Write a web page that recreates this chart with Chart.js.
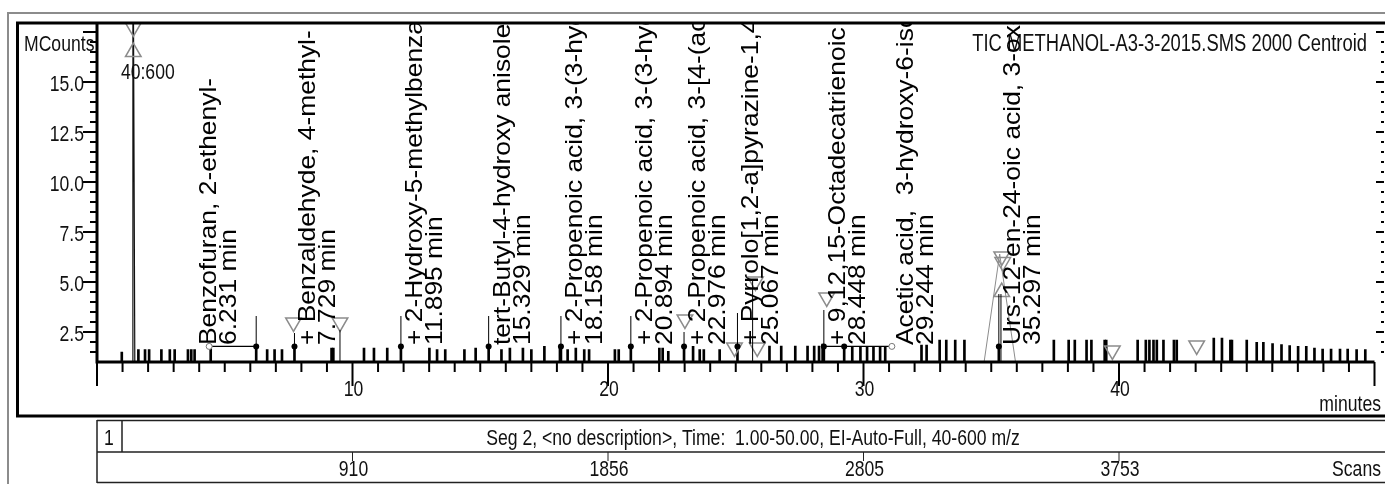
<!DOCTYPE html>
<html>
<head>
<meta charset="utf-8">
<script src="https://cdn.jsdelivr.net/npm/chart.js@4"></script>
<style>
  html, body { margin: 0; background: #fff; }
  canvas { display: block; }
</style>
</head>
<body>
<canvas id="myChart" width="1385" height="484"></canvas>
<script>
// centroid sticks: retention time (min) and height (MCounts)
const stickTimes = [0.97, 1.62, 1.88, 2.04, 2.52, 2.85, 3.04, 3.56, 3.69, 3.82, 4.45, 6.231, 6.66, 6.95, 7.24, 7.729,
  9.18, 9.25, 10.45, 10.84, 11.36, 11.895, 13.01, 13.31, 13.63, 14.38, 14.82, 15.329, 15.83, 16.16, 16.67, 17.0,
  17.51, 18.12, 18.158, 18.42, 18.74, 19.07, 19.26, 20.27, 20.42, 20.894, 22.01, 22.14, 22.36, 22.976, 23.33, 23.59,
  23.75, 24.37, 25.067, 26.32, 26.78, 27.33, 27.81, 28.07, 28.26, 28.40, 28.448, 29.244, 29.56, 29.88, 30.14, 30.39,
  30.65, 30.85, 32.27, 32.47, 32.98, 33.24, 33.59, 33.95, 35.297, 37.45, 38.03, 38.27, 38.73, 38.92, 39.44, 39.5,
  40.73, 41.05, 41.19, 41.35, 41.48, 41.74, 42.15, 42.26, 43.71, 44.03, 44.36, 44.42, 45.0, 45.39, 45.65, 46.01,
  46.36, 46.68, 47.01, 47.33, 47.65, 47.97, 48.3, 48.65, 48.95, 49.3, 49.64];
const stickHeights = [1.5, 1.62, 1.62, 1.62, 1.62, 1.62, 1.62, 1.62, 1.62, 1.62, 1.75, 1.78, 1.62, 1.62, 1.62, 1.78,
  1.7, 1.7, 1.7, 1.7, 1.7, 1.78, 1.7, 1.62, 1.62, 1.62, 1.7, 1.78, 1.62, 1.7, 1.7, 1.62,
  1.78, 1.78, 1.78, 1.62, 1.7, 1.62, 1.62, 1.62, 1.62, 1.78, 1.7, 1.7, 1.53, 1.78, 1.78, 1.62,
  1.62, 1.62, 1.78, 1.8, 1.8, 1.8, 1.8, 1.8, 1.8, 1.9, 1.78, 1.78, 1.75, 1.75, 1.75, 1.75,
  1.75, 1.75, 1.85, 1.85, 2.1, 2.1, 2.1, 2.1, 1.78, 2.1, 2.1, 2.1, 2.1, 2.1, 2.1, 2.1,
  2.1, 2.1, 2.1, 2.1, 2.1, 2.1, 2.1, 2.1, 2.2, 2.2, 2.1, 2.1, 2.1, 1.98, 1.98, 1.92,
  1.87, 1.82, 1.78, 1.78, 1.7, 1.65, 1.65, 1.65, 1.65, 1.62, 1.62];
const stickBase = 1;

// the big solvent peak (runs off the top)
const ticTimes = [1.39, 1.405, 1.48];
const ticValues = [1, 26, 1];

// identified peaks
const peakTimes = [6.231, 7.729, 11.895, 15.329, 18.158, 20.894, 22.976, 25.067, 28.448, 29.244, 35.297];
const peakApex = [1.78, 1.78, 1.78, 1.78, 1.78, 1.78, 1.78, 1.78, 1.78, 1.78, 1.78];
const leaderTops = [3.3, 2.45, 3.3, 3.3, 3.3, 3.3, 2.5, 3.45, 3.6, 1.78, 4.4];
const peakNames = [
  'Benzofuran, 2-ethenyl-',
  '+ Benzaldehyde, 4-methyl-',
  '+ 2-Hydroxy-5-methylbenzaldehyde',
  'tert-Butyl-4-hydroxy anisole',
  '+ 2-Propenoic acid, 3-(3-hydroxyphenyl)-, methyl ester',
  '+ 2-Propenoic acid, 3-(3-hydroxy-4-methoxyphenyl)-',
  '+ 2-Propenoic acid, 3-[4-(acetyloxy)phenyl]-',
  '+ Pyrrolo[1,2-a]pyrazine-1,4-dione, hexahydro-',
  '+ 9,12,15-Octadecatrienoic acid, methyl ester',
  'Acetic acid,  3-hydroxy-6-isopropenyl-',
  'Urs-12-en-24-oic acid, 3-oxo-, methyl ester'
];

// peak start / end markers
const invTriTimes = [1.42, 7.69, 9.51, 23.01, 24.95, 25.77, 25.84, 28.56, 35.41, 35.45, 39.74, 43.04];
const invTriValues = [17.73, 2.98, 2.98, 3.13, 1.73, 5.03, 1.73, 4.23, 6.28, 6.0, 1.58, 1.83];
const upTriTimes = [1.42, 35.41];
const upTriValues = [16.5, 4.5];
const circleTimes = [4.39, 31.11];
const circleValues = [1.78, 1.78];
const baselineFrom = [4.39, 28.448];
const baselineTo = [6.231, 31.11];
const clusterTimes = [34.72, 35.33, 35.95];
const clusterValues = [1, 6.4, 1];
const markLineTimes = [9.51, 25.66, 35.38];
const markLineTops = [2.6, 5.1, 4.4];

// axes
const xTickValues = [10, 20, 30, 40];
const xTickLabels = ['10', '20', '30', '40'];
const yTickValues = [2.5, 5.0, 7.5, 10.0, 12.5, 15.0];
const yTickLabels = ['2.5', '5.0', '7.5', '10.0', '12.5', '15.0'];
const scanTimes = [10, 20, 30, 40];
const scanLabels = ['910', '1856', '2805', '3753'];

const titleText = 'TIC METHANOL-A3-3-2015.SMS 2000 Centroid';
const segText = 'Seg 2, <no description>, Time:  1.00-50.00, EI-Auto-Full, 40-600 m/z';

const FONT = '"Liberation Sans", Arial, sans-serif';
const GRAY = '#8c8c8c';

function hText(ctx, str, x, y, size, align) {
  // condensed horizontal text, y = visual middle of the digits
  const sx = 0.8;
  ctx.save();
  ctx.font = size + 'px ' + FONT;
  ctx.textAlign = 'left';
  ctx.textBaseline = 'alphabetic';
  const w = ctx.measureText(str).width * sx;
  const x0 = align === 'right' ? x - w : align === 'center' ? x - w / 2 : x;
  ctx.translate(x0, y + size * 0.358);
  ctx.scale(sx, 1);
  ctx.fillText(str, 0, 0);
  ctx.restore();
}

function vText(ctx, str, x, y) {
  // text reading bottom to top, baseline on the right
  ctx.save();
  ctx.font = '24px ' + FONT;
  ctx.textAlign = 'left';
  ctx.textBaseline = 'alphabetic';
  ctx.translate(x, y);
  ctx.rotate(-Math.PI / 2);
  ctx.scale(1.1, 1);
  ctx.fillText(str, 0, 0);
  ctx.restore();
}

const labelNudge = {0: -61, 9: 48};

const chromPlugin = {
  id: 'chrom',
  afterDraw(chart) {
    const ctx = chart.ctx, a = chart.chartArea;
    const xs = chart.scales.x, ys = chart.scales.y;
    const px = v => xs.getPixelForValue(v), py = v => ys.getPixelForValue(v);
    const W = chart.width;
    ctx.save();
    ctx.fillStyle = '#000';
    ctx.strokeStyle = '#000';

    // thin marker lines and leaders
    ctx.lineWidth = 1;
    markLineTimes.forEach((t, i) => {
      ctx.beginPath(); ctx.moveTo(px(t), py(1)); ctx.lineTo(px(t), py(markLineTops[i])); ctx.stroke();
    });
    peakTimes.forEach((t, i) => {
      ctx.beginPath(); ctx.moveTo(px(t), py(peakApex[i])); ctx.lineTo(px(t), py(leaderTops[i])); ctx.stroke();
    });

    // outer frames
    ctx.strokeStyle = GRAY; ctx.lineWidth = 2;
    ctx.beginPath(); ctx.moveTo(8, 484); ctx.lineTo(8, 13); ctx.lineTo(W, 13); ctx.stroke();
    ctx.strokeStyle = '#000'; ctx.lineWidth = 3;
    ctx.beginPath(); ctx.moveTo(W + 5, 23); ctx.lineTo(17.5, 23); ctx.lineTo(17.5, 416); ctx.lineTo(W + 5, 416); ctx.stroke();

    // axis lines
    const y0 = py(1);
    ctx.lineWidth = 3;
    ctx.beginPath(); ctx.moveTo(a.left, a.top); ctx.lineTo(a.left, y0); ctx.lineTo(a.right, y0); ctx.stroke();

    // x ticks
    ctx.lineWidth = 2;
    for (let m = 0; m <= 50; m++) {
      const len = m % 10 === 0 ? 24 : 10;
      ctx.beginPath(); ctx.moveTo(px(m), y0); ctx.lineTo(px(m), y0 + len); ctx.stroke();
    }
    // y ticks left and right
    for (let v = 1.5; v <= 17.6; v += 0.5) {
      const major = Math.abs(v / 2.5 - Math.round(v / 2.5)) < 1e-6;
      const y = py(v);
      ctx.beginPath(); ctx.moveTo(a.left, y); ctx.lineTo(a.left - (major ? 14 : 7), y); ctx.stroke();
      ctx.beginPath(); ctx.moveTo(W - 1, y); ctx.lineTo(W - 1 - (major ? 8 : 3), y); ctx.stroke();
    }

    ctx.fillStyle = '#111';
    xTickValues.forEach((v, i) => hText(ctx, xTickLabels[i], px(v) + 1, 388, 22, 'center'));
    yTickValues.forEach((v, i) => hText(ctx, yTickLabels[i], 84, py(v) + 1, 22, 'right'));
    hText(ctx, 'MCounts', 24, 43, 22, 'left');
    hText(ctx, 'minutes', 1381, 403, 22, 'right');
    hText(ctx, titleText, 1367, 43, 23, 'right');
    hText(ctx, '40:600', px(ticTimes[1]) - 12, 71, 22, 'left');

    // peak labels
    ctx.save();
    ctx.beginPath(); ctx.rect(a.left, a.top + 1, a.right - a.left, a.bottom - a.top); ctx.clip();
    ctx.fillStyle = '#000';
    const textStart = py(1.85);
    peakTimes.forEach((t, i) => {
      const x = px(t) + 21 + (labelNudge[i] || 0);
      vText(ctx, peakNames[i], x, textStart);
      vText(ctx, t.toFixed(3) + ' min', x + 20, textStart);
    });
    ctx.restore();

    // segment / scan table
    ctx.strokeStyle = '#222'; ctx.lineWidth = 1.5;
    ctx.beginPath();
    ctx.moveTo(a.left, 420.5); ctx.lineTo(W, 420.5);
    ctx.moveTo(a.left, 452); ctx.lineTo(W, 452);
    ctx.moveTo(a.left, 482.5); ctx.lineTo(W, 482.5);
    ctx.moveTo(a.left, 420); ctx.lineTo(a.left, 483);
    ctx.moveTo(122, 420); ctx.lineTo(122, 452);
    ctx.stroke();
    ctx.lineWidth = 1;
    scanTimes.forEach(t => { ctx.beginPath(); ctx.moveTo(px(t), 452); ctx.lineTo(px(t), 461); ctx.stroke(); });
    hText(ctx, '1', 104, 437, 22, 'left');
    hText(ctx, segText, 753, 437, 22, 'center');
    scanTimes.forEach((t, i) => hText(ctx, scanLabels[i], px(t) + 1, 468, 22, 'center'));
    hText(ctx, 'Scans', 1381, 468, 22, 'right');
    ctx.restore();
  }
};

const pts = (xsArr, ysArr) => xsArr.map((x, i) => ({x: x, y: ysArr[i]}));
const baselinePts = [];
baselineFrom.forEach((t, i) => {
  baselinePts.push({x: t, y: 1.78}, {x: baselineTo[i], y: 1.78}, {x: baselineTo[i] + 0.01, y: null});
});

new Chart(document.getElementById('myChart'), {
  type: 'bar',
  data: {
    datasets: [
      { type: 'line', data: pts(peakTimes, peakApex), showLine: false, pointRadius: 3,
        pointBackgroundColor: '#000', pointBorderColor: '#000', pointBorderWidth: 0 },
      { type: 'line', data: pts(circleTimes, circleValues), showLine: false, pointRadius: 3,
        pointBackgroundColor: '#fff', pointBorderColor: '#777', pointBorderWidth: 1 },
      { type: 'line', data: pts(invTriTimes, invTriValues), showLine: false, pointStyle: 'triangle',
        rotation: 180, pointRadius: 9, pointBackgroundColor: 'rgba(0,0,0,0)', pointBorderColor: GRAY, pointBorderWidth: 1.5 },
      { type: 'line', data: pts(upTriTimes, upTriValues), showLine: false, pointStyle: 'triangle',
        pointRadius: 9, pointBackgroundColor: 'rgba(0,0,0,0)', pointBorderColor: GRAY, pointBorderWidth: 1.5 },
      { type: 'line', data: baselinePts, borderColor: '#000', borderWidth: 1.2, pointRadius: 0, spanGaps: false },
      { type: 'line', data: pts(clusterTimes, clusterValues), borderColor: GRAY, borderWidth: 1, pointRadius: 0 },
      { type: 'line', data: pts(ticTimes, ticValues), borderColor: '#111', borderWidth: 1.2, pointRadius: 0 },
      { type: 'bar', data: stickTimes.map((t, i) => ({x: t, y: [stickBase, stickHeights[i]]})),
        backgroundColor: '#000', borderWidth: 0, barThickness: 2, grouped: false }
    ]
  },
  options: {
    responsive: false,
    animation: false,
    devicePixelRatio: 1,
    layout: { padding: { left: 97, right: 0, top: 22, bottom: 122 } },
    scales: {
      x: { type: 'linear', min: 0, max: 50, offset: false, display: false },
      y: { min: 1, max: 18, display: false }
    },
    plugins: { legend: { display: false }, tooltip: { enabled: false } }
  },
  plugins: [chromPlugin]
});
</script>
</body>
</html>
